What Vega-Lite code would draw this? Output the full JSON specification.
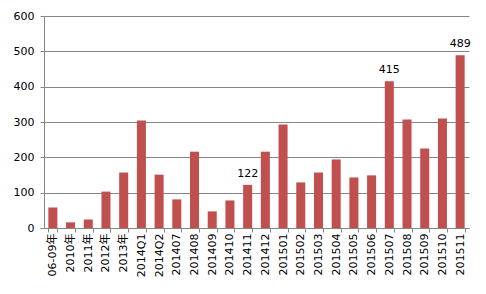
{
  "$schema": "https://vega.github.io/schema/vega-lite/v6.json",
  "width": 425,
  "height": 212,
  "autosize": {"type": "none"},
  "padding": {"left": 44, "top": 16, "right": 17, "bottom": 66},
  "background": "white",
  "config": {
    "view": {"stroke": null},
    "font": "DejaVu Sans",
    "axis": {"labelFont": "DejaVu Sans, Noto Sans CJK SC", "labelFontSize": 11, "labelColor": "#000000", "domainColor": "#868686", "tickColor": "#868686", "gridColor": "#868686", "titleFontSize": 11}
  },
  "data": {
    "values": [
      {"period": "06-09年", "value": 58},
      {"period": "2010年", "value": 16},
      {"period": "2011年", "value": 24},
      {"period": "2012年", "value": 103},
      {"period": "2013年", "value": 157},
      {"period": "2014Q1", "value": 304},
      {"period": "2014Q2", "value": 151},
      {"period": "201407", "value": 81},
      {"period": "201408", "value": 216},
      {"period": "201409", "value": 47},
      {"period": "201410", "value": 78},
      {"period": "201411", "value": 122},
      {"period": "201412", "value": 216},
      {"period": "201501", "value": 293},
      {"period": "201502", "value": 129},
      {"period": "201503", "value": 157},
      {"period": "201504", "value": 194},
      {"period": "201505", "value": 143},
      {"period": "201506", "value": 149},
      {"period": "201507", "value": 415},
      {"period": "201508", "value": 307},
      {"period": "201509", "value": 225},
      {"period": "201510", "value": 310},
      {"period": "201511", "value": 489}
    ]
  },
  "encoding": {
    "x": {
      "field": "period",
      "type": "nominal",
      "sort": null,
      "scale": {"paddingInner": 0.49, "paddingOuter": 0.245},
      "axis": {"title": null, "labelAngle": -90, "labelPadding": 1, "tickBand": "extent", "tickSize": 4, "domainWidth": 1}
    },
    "y": {
      "field": "value",
      "type": "quantitative",
      "scale": {"domain": [0, 600]},
      "axis": {"title": null, "values": [0, 100, 200, 300, 400, 500, 600], "tickSize": 4, "labelPadding": 6, "grid": true, "gridWidth": 1}
    }
  },
  "layer": [
    {"mark": {"type": "bar", "color": "#C0504D"}},
    {
      "transform": [{"filter": {"field": "period", "oneOf": ["201411", "201507", "201511"]}}],
      "mark": {"type": "text", "baseline": "bottom", "dy": -6, "fontSize": 11, "font": "DejaVu Sans", "color": "#000000"},
      "encoding": {"text": {"field": "value", "type": "quantitative"}}
    }
  ]
}
